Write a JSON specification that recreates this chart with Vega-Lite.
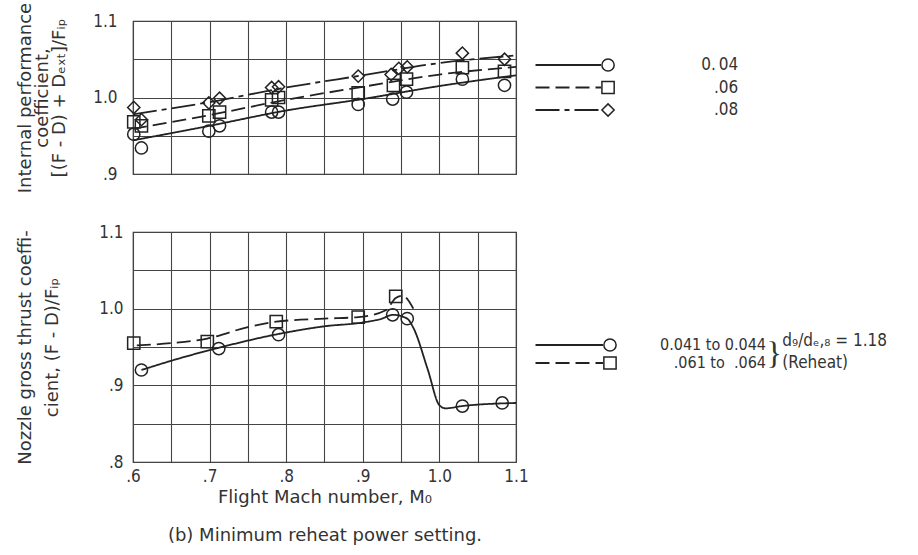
{
  "$schema": "https://vega.github.io/schema/vega-lite/v6.json",
  "padding": {"left": 16, "top": 1, "right": 5, "bottom": 5},
  "background": "white",
  "config": {
    "font": "DejaVu Sans Condensed",
    "view": {"stroke": "#333", "strokeWidth": 1.2},
    "axis": {
      "gridColor": "#444", "gridOpacity": 1, "gridWidth": 1.1, "tickCount": 40,
      "domain": false, "ticks": false, "labelFlush": false, "labelOverlap": false,
      "labelFont": "DejaVu Sans Condensed", "labelFontSize": 17, "labelColor": "#333",
      "titleFont": "DejaVu Sans", "titleFontSize": 18, "titleFontWeight": "normal", "titleColor": "#333"
    }
  },
  "datasets": {
    "topPts": [
      {"series": "0.04", "mach": 0.601, "coef": 0.952},
      {"series": "0.04", "mach": 0.611, "coef": 0.934},
      {"series": "0.04", "mach": 0.699, "coef": 0.956},
      {"series": "0.04", "mach": 0.713, "coef": 0.963},
      {"series": "0.04", "mach": 0.781, "coef": 0.981},
      {"series": "0.04", "mach": 0.790, "coef": 0.981},
      {"series": "0.04", "mach": 0.894, "coef": 0.991},
      {"series": "0.04", "mach": 0.939, "coef": 0.998},
      {"series": "0.04", "mach": 0.957, "coef": 1.007},
      {"series": "0.04", "mach": 1.030, "coef": 1.024},
      {"series": "0.04", "mach": 1.085, "coef": 1.016},
      {"series": "0.06", "mach": 0.601, "coef": 0.968},
      {"series": "0.06", "mach": 0.611, "coef": 0.963},
      {"series": "0.06", "mach": 0.699, "coef": 0.976},
      {"series": "0.06", "mach": 0.713, "coef": 0.981},
      {"series": "0.06", "mach": 0.781, "coef": 0.997},
      {"series": "0.06", "mach": 0.790, "coef": 1.000},
      {"series": "0.06", "mach": 0.894, "coef": 1.006},
      {"series": "0.06", "mach": 0.940, "coef": 1.016},
      {"series": "0.06", "mach": 0.957, "coef": 1.024},
      {"series": "0.06", "mach": 1.030, "coef": 1.039},
      {"series": "0.06", "mach": 1.085, "coef": 1.034},
      {"series": "0.08", "mach": 0.601, "coef": 0.987},
      {"series": "0.08", "mach": 0.611, "coef": 0.971},
      {"series": "0.08", "mach": 0.699, "coef": 0.993},
      {"series": "0.08", "mach": 0.713, "coef": 0.999},
      {"series": "0.08", "mach": 0.781, "coef": 1.013},
      {"series": "0.08", "mach": 0.790, "coef": 1.014},
      {"series": "0.08", "mach": 0.894, "coef": 1.028},
      {"series": "0.08", "mach": 0.937, "coef": 1.030},
      {"series": "0.08", "mach": 0.947, "coef": 1.038},
      {"series": "0.08", "mach": 0.958, "coef": 1.040},
      {"series": "0.08", "mach": 1.030, "coef": 1.058},
      {"series": "0.08", "mach": 1.085, "coef": 1.050}
    ],
    "topCurves": [
      {"series": "0.04", "mach": 0.6, "coef": 0.944},
      {"series": "0.04", "mach": 0.7, "coef": 0.963},
      {"series": "0.04", "mach": 0.8, "coef": 0.983},
      {"series": "0.04", "mach": 0.9, "coef": 0.998},
      {"series": "0.04", "mach": 1.0, "coef": 1.015},
      {"series": "0.04", "mach": 1.1, "coef": 1.029},
      {"series": "0.06", "mach": 0.6, "coef": 0.959},
      {"series": "0.06", "mach": 0.7, "coef": 0.977},
      {"series": "0.06", "mach": 0.8, "coef": 0.997},
      {"series": "0.06", "mach": 0.9, "coef": 1.014},
      {"series": "0.06", "mach": 1.0, "coef": 1.030},
      {"series": "0.06", "mach": 1.1, "coef": 1.040},
      {"series": "0.08", "mach": 0.6, "coef": 0.978},
      {"series": "0.08", "mach": 0.7, "coef": 0.994},
      {"series": "0.08", "mach": 0.8, "coef": 1.013},
      {"series": "0.08", "mach": 0.9, "coef": 1.029},
      {"series": "0.08", "mach": 1.0, "coef": 1.045},
      {"series": "0.08", "mach": 1.1, "coef": 1.055}
    ],
    "botPts": [
      {"series": "a", "mach": 0.611, "coef": 0.920},
      {"series": "a", "mach": 0.712, "coef": 0.948},
      {"series": "a", "mach": 0.790, "coef": 0.966},
      {"series": "a", "mach": 0.939, "coef": 0.992},
      {"series": "a", "mach": 0.958, "coef": 0.987},
      {"series": "a", "mach": 1.030, "coef": 0.873},
      {"series": "a", "mach": 1.082, "coef": 0.877},
      {"series": "b", "mach": 0.601, "coef": 0.955},
      {"series": "b", "mach": 0.697, "coef": 0.957},
      {"series": "b", "mach": 0.787, "coef": 0.983},
      {"series": "b", "mach": 0.894, "coef": 0.989},
      {"series": "b", "mach": 0.943, "coef": 1.016}
    ],
    "botCurves": [
      {"series": "a", "mach": 0.611, "coef": 0.920},
      {"series": "a", "mach": 0.660, "coef": 0.935},
      {"series": "a", "mach": 0.712, "coef": 0.949},
      {"series": "a", "mach": 0.790, "coef": 0.967},
      {"series": "a", "mach": 0.850, "coef": 0.977},
      {"series": "a", "mach": 0.900, "coef": 0.982},
      {"series": "a", "mach": 0.925, "coef": 0.987},
      {"series": "a", "mach": 0.939, "coef": 0.992},
      {"series": "a", "mach": 0.958, "coef": 0.987},
      {"series": "a", "mach": 0.966, "coef": 0.975},
      {"series": "a", "mach": 0.985, "coef": 0.920},
      {"series": "a", "mach": 1.000, "coef": 0.874},
      {"series": "a", "mach": 1.008, "coef": 0.870},
      {"series": "a", "mach": 1.030, "coef": 0.873},
      {"series": "a", "mach": 1.100, "coef": 0.877},
      {"series": "b", "mach": 0.605, "coef": 0.952},
      {"series": "b", "mach": 0.650, "coef": 0.955},
      {"series": "b", "mach": 0.697, "coef": 0.961},
      {"series": "b", "mach": 0.750, "coef": 0.976},
      {"series": "b", "mach": 0.787, "coef": 0.983},
      {"series": "b", "mach": 0.850, "coef": 0.987},
      {"series": "b", "mach": 0.894, "coef": 0.989},
      {"series": "b", "mach": 0.930, "coef": 0.998},
      {"series": "b", "mach": 0.943, "coef": 1.014},
      {"series": "b", "mach": 0.952, "coef": 1.017},
      {"series": "b", "mach": 0.960, "coef": 1.010},
      {"series": "b", "mach": 0.966, "coef": 1.000}
    ],
    "topLegend": [
      {"series": "0.04", "row": 1, "label": "0.\u200904"},
      {"series": "0.06", "row": 2, "label": ".06"},
      {"series": "0.08", "row": 3, "label": ".08"}
    ],
    "botLegend": [
      {"series": "a", "row": 1, "label": "0.041 to 0.044"},
      {"series": "b", "row": 2, "label": ".061 to\u00a0\u00a0.064"}
    ]
  },
  "columns": 2,
  "spacing": {"row": 58, "column": 0},
  "bounds": "flush",
  "concat": [
    {
      "width": 383, "height": 153,
      "layer": [
        {
          "data": {"name": "topCurves"},
          "mark": {"type": "line", "interpolate": "monotone", "color": "#222", "strokeWidth": 1.8},
          "encoding": {
            "x": {"field": "mach", "type": "quantitative",
              "scale": {"domain": [0.6, 1.1], "nice": false, "zero": false},
              "axis": {"values": [0.6, 0.65, 0.7, 0.75, 0.8, 0.85, 0.9, 0.95, 1.0, 1.05, 1.1], "labels": false, "title": null, "grid": true}},
            "y": {"field": "coef", "type": "quantitative",
              "scale": {"domain": [0.9, 1.1], "nice": false, "zero": false},
              "axis": {"values": [0.9, 0.95, 1.0, 1.05, 1.1],
                "labelExpr": "abs(datum.value*10 - round(datum.value*10)) > 0.01 ? '' : (datum.value < 1 ? replace(format(datum.value, '.1f'), '0.', '.') : format(datum.value, '.1f'))",
                "labelPadding": 16, "titlePadding": 24, "titleLineHeight": 17,
                "title": ["Internal performance", "coefficient,", "[(F - D) + Dₑₓₜ]/Fᵢₚ"]}},
            "strokeDash": {"field": "series", "type": "nominal", "legend": null,
              "scale": {"domain": ["0.04", "0.06", "0.08"], "range": [[1, 0], [14, 6], [24, 5, 5, 5]]}}
          }
        },
        {
          "data": {"name": "topPts"},
          "mark": {"type": "point", "filled": false, "color": "#222", "strokeWidth": 1.5, "size": 150, "opacity": 1},
          "encoding": {
            "x": {"field": "mach", "type": "quantitative"},
            "y": {"field": "coef", "type": "quantitative"},
            "shape": {"field": "series", "type": "nominal", "legend": null,
              "scale": {"domain": ["0.04", "0.06", "0.08"], "range": ["circle", "square", "diamond"]}}
          }
        }
      ]
    },
    {
      "width": 390, "height": 153,
      "view": {"stroke": null},
      "data": {"name": "topLegend"},
      "layer": [
        {
          "mark": {"type": "rule", "color": "#222", "strokeWidth": 1.8},
          "encoding": {
            "x": {"datum": 5, "type": "quantitative", "scale": {"domain": [0, 100]}, "axis": null},
            "x2": {"datum": 21.8},
            "y": {"field": "row", "type": "quantitative", "scale": {"domain": [1, 3], "range": [44, 89]}, "axis": null},
            "strokeDash": {"field": "series", "type": "nominal", "legend": null,
              "scale": {"domain": ["0.04", "0.06", "0.08"], "range": [[1, 0], [14, 6], [24, 5, 5, 5]]}}
          }
        },
        {
          "mark": {"type": "point", "filled": false, "color": "#222", "strokeWidth": 1.5, "size": 150, "opacity": 1},
          "encoding": {
            "x": {"datum": 23.6, "type": "quantitative"},
            "y": {"field": "row", "type": "quantitative"},
            "shape": {"field": "series", "type": "nominal", "legend": null,
              "scale": {"domain": ["0.04", "0.06", "0.08"], "range": ["circle", "square", "diamond"]}}
          }
        },
        {
          "mark": {"type": "text", "align": "right", "baseline": "middle", "fontSize": 17, "color": "#333"},
          "encoding": {
            "x": {"datum": 57, "type": "quantitative"},
            "y": {"field": "row", "type": "quantitative"},
            "text": {"field": "label"}
          }
        }
      ]
    },
    {
      "width": 383, "height": 230,
      "layer": [
        {
          "data": {"name": "botCurves"},
          "mark": {"type": "line", "interpolate": "monotone", "color": "#222", "strokeWidth": 1.8},
          "encoding": {
            "x": {"field": "mach", "type": "quantitative",
              "scale": {"domain": [0.6, 1.1], "nice": false, "zero": false},
              "axis": {"values": [0.6, 0.65, 0.7, 0.75, 0.8, 0.85, 0.9, 0.95, 1.0, 1.05, 1.1],
                "labelExpr": "abs(datum.value*10 - round(datum.value*10)) > 0.01 ? '' : (datum.value < 1 ? replace(format(datum.value, '.1f'), '0.', '.') : format(datum.value, '.1f'))",
                "labelPadding": 6, "titlePadding": 4, "titleLineHeight": 38,
                "title": ["Flight Mach number, M₀", "(b) Minimum reheat power setting."]}},
            "y": {"field": "coef", "type": "quantitative",
              "scale": {"domain": [0.8, 1.1], "nice": false, "zero": false},
              "axis": {"values": [0.8, 0.85, 0.9, 0.95, 1.0, 1.05, 1.1],
                "labelExpr": "abs(datum.value*10 - round(datum.value*10)) > 0.01 ? '' : (datum.value < 1 ? replace(format(datum.value, '.1f'), '0.', '.') : format(datum.value, '.1f'))",
                "labelPadding": 10, "titlePadding": 37, "titleLineHeight": 27,
                "title": ["Nozzle gross thrust coeffi-", "cient, (F - D)/Fᵢₚ"]}},
            "strokeDash": {"field": "series", "type": "nominal", "legend": null,
              "scale": {"domain": ["a", "b"], "range": [[1, 0], [14, 6]]}}
          }
        },
        {
          "data": {"name": "botPts"},
          "mark": {"type": "point", "filled": false, "color": "#222", "strokeWidth": 1.5, "size": 150, "opacity": 1},
          "encoding": {
            "x": {"field": "mach", "type": "quantitative"},
            "y": {"field": "coef", "type": "quantitative"},
            "shape": {"field": "series", "type": "nominal", "legend": null,
              "scale": {"domain": ["a", "b"], "range": ["circle", "square"]}}
          }
        }
      ]
    },
    {
      "width": 390, "height": 230,
      "view": {"stroke": null},
      "layer": [
        {
          "data": {"name": "botLegend"},
          "mark": {"type": "rule", "color": "#222", "strokeWidth": 1.8},
          "encoding": {
            "x": {"datum": 5, "type": "quantitative", "scale": {"domain": [0, 100]}, "axis": null},
            "x2": {"datum": 22.3},
            "y": {"field": "row", "type": "quantitative", "scale": {"domain": [1, 2], "range": [113, 131]}, "axis": null},
            "strokeDash": {"field": "series", "type": "nominal", "legend": null,
              "scale": {"domain": ["a", "b"], "range": [[1, 0], [14, 6]]}}
          }
        },
        {
          "data": {"name": "botLegend"},
          "mark": {"type": "point", "filled": false, "color": "#222", "strokeWidth": 1.5, "size": 150, "opacity": 1},
          "encoding": {
            "x": {"datum": 24.1, "type": "quantitative"},
            "y": {"field": "row", "type": "quantitative"},
            "shape": {"field": "series", "type": "nominal", "legend": null,
              "scale": {"domain": ["a", "b"], "range": ["circle", "square"]}}
          }
        },
        {
          "data": {"name": "botLegend"},
          "mark": {"type": "text", "align": "right", "baseline": "middle", "fontSize": 16, "color": "#333"},
          "encoding": {
            "x": {"datum": 64.1, "type": "quantitative"},
            "y": {"field": "row", "type": "quantitative"},
            "text": {"field": "label"}
          }
        },
        {
          "data": {"values": [{}]},
          "mark": {"type": "text", "align": "left", "baseline": "middle", "font": "Liberation Serif", "fontSize": 32, "color": "#333"},
          "encoding": {
            "x": {"datum": 64.2, "type": "quantitative"},
            "y": {"datum": 1.5, "type": "quantitative"},
            "text": {"value": "}"}
          }
        },
        {
          "data": {"values": [{}]},
          "mark": {"type": "text", "align": "left", "baseline": "middle", "fontSize": 17, "dy": -4, "color": "#333"},
          "encoding": {
            "x": {"datum": 68.3, "type": "quantitative"},
            "y": {"datum": 1, "type": "quantitative"},
            "text": {"value": "d₉/dₑ,₈ = 1.18"}
          }
        },
        {
          "data": {"values": [{}]},
          "mark": {"type": "text", "align": "left", "baseline": "middle", "fontSize": 17, "color": "#333"},
          "encoding": {
            "x": {"datum": 68.3, "type": "quantitative"},
            "y": {"datum": 2, "type": "quantitative"},
            "text": {"value": "(Reheat)"}
          }
        }
      ]
    }
  ]
}
